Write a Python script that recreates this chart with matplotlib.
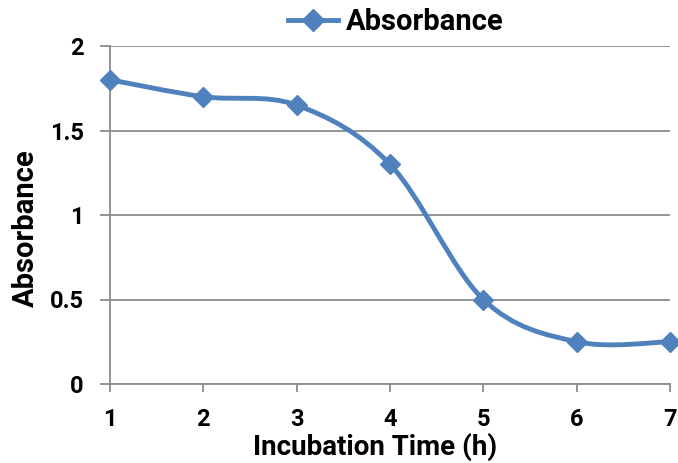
import matplotlib
matplotlib.use("Agg")
import matplotlib.pyplot as plt
from matplotlib.path import Path
from matplotlib.patches import PathPatch
from matplotlib.lines import Line2D
import numpy as np

hours = [1, 2, 3, 4, 5, 6, 7]
absorbance = [1.8, 1.7, 1.65, 1.3, 0.5, 0.25, 0.25]
y_ticks = [0, 0.5, 1, 1.5, 2]
y_tick_labels = ["0", "0.5", "1", "1.5", "2"]

BLUE = "#4F81BD"
GRID = "#8C8C8C"
FONT = "Roboto"

plt.rcParams["font.family"] = [FONT, "DejaVu Sans"]
plt.rcParams["font.weight"] = "bold"


def smooth_path(xs, ys):
    # Excel-like smoothed line: Catmull-Rom turned into cubic Bezier segments
    pts = np.column_stack([xs, ys]).astype(float)
    verts = [pts[0]]
    codes = [Path.MOVETO]
    n = len(pts)
    for i in range(n - 1):
        p0 = pts[max(i - 1, 0)]
        p1 = pts[i]
        p2 = pts[i + 1]
        p3 = pts[min(i + 2, n - 1)]
        c1 = p1 + (p2 - p0) / 6.0
        c2 = p2 - (p3 - p1) / 6.0
        verts += [c1, c2, p2]
        codes += [Path.CURVE4] * 3
    return Path(verts, codes)


fig = plt.figure(figsize=(6.78, 4.63), dpi=100)
ax = fig.add_axes([110 / 678, 1 - 384 / 463, 560 / 678, 338 / 463])

ax.add_patch(PathPatch(smooth_path(hours, absorbance), facecolor="none",
                       edgecolor=BLUE, linewidth=3.5, zorder=3,
                       capstyle="round", joinstyle="round"))
ax.plot(hours, absorbance, linestyle="none", marker="D", markersize=10,
        color=BLUE, zorder=4, clip_on=False)

ax.set_xlim(1, 7)
ax.set_ylim(0, 2)
ax.set_xticks(hours)
ax.set_yticks(y_ticks)
ax.set_yticklabels(y_tick_labels)
ax.grid(True, axis="y", color=GRID, linewidth=1.3)
ax.set_axisbelow(True)

for side in ["top", "right"]:
    ax.spines[side].set_visible(False)
for side in ["left", "bottom"]:
    ax.spines[side].set_color(GRID)
    ax.spines[side].set_linewidth(1.3)

ax.tick_params(axis="x", direction="out", length=6, width=1.3, color=GRID,
               labelsize=17, pad=11)
ax.tick_params(axis="y", direction="out", length=7, width=1.3, color=GRID,
               labelsize=17, pad=12)
for lbl in ax.get_xticklabels() + ax.get_yticklabels():
    lbl.set_fontweight("bold")

ax.set_xlabel("Incubation Time (h)", fontsize=20, fontweight="bold")
ax.xaxis.set_label_coords(0.473, -0.145)
ax.set_ylabel("Absorbance", fontsize=21, fontweight="bold")
ax.yaxis.set_label_coords(-0.125, 0.46)

handle = Line2D([0], [0], color=BLUE, linewidth=3.5, marker="D", markersize=11)
fig.legend(handles=[handle], labels=["Absorbance"], loc="center left",
           bbox_to_anchor=(288 / 678, 1 - 22 / 463), frameon=False,
           borderpad=0, borderaxespad=0, handlelength=1.7, handletextpad=0.3,
           prop={"family": FONT, "weight": "bold", "size": 21})

fig.savefig("out.png", dpi=100)
